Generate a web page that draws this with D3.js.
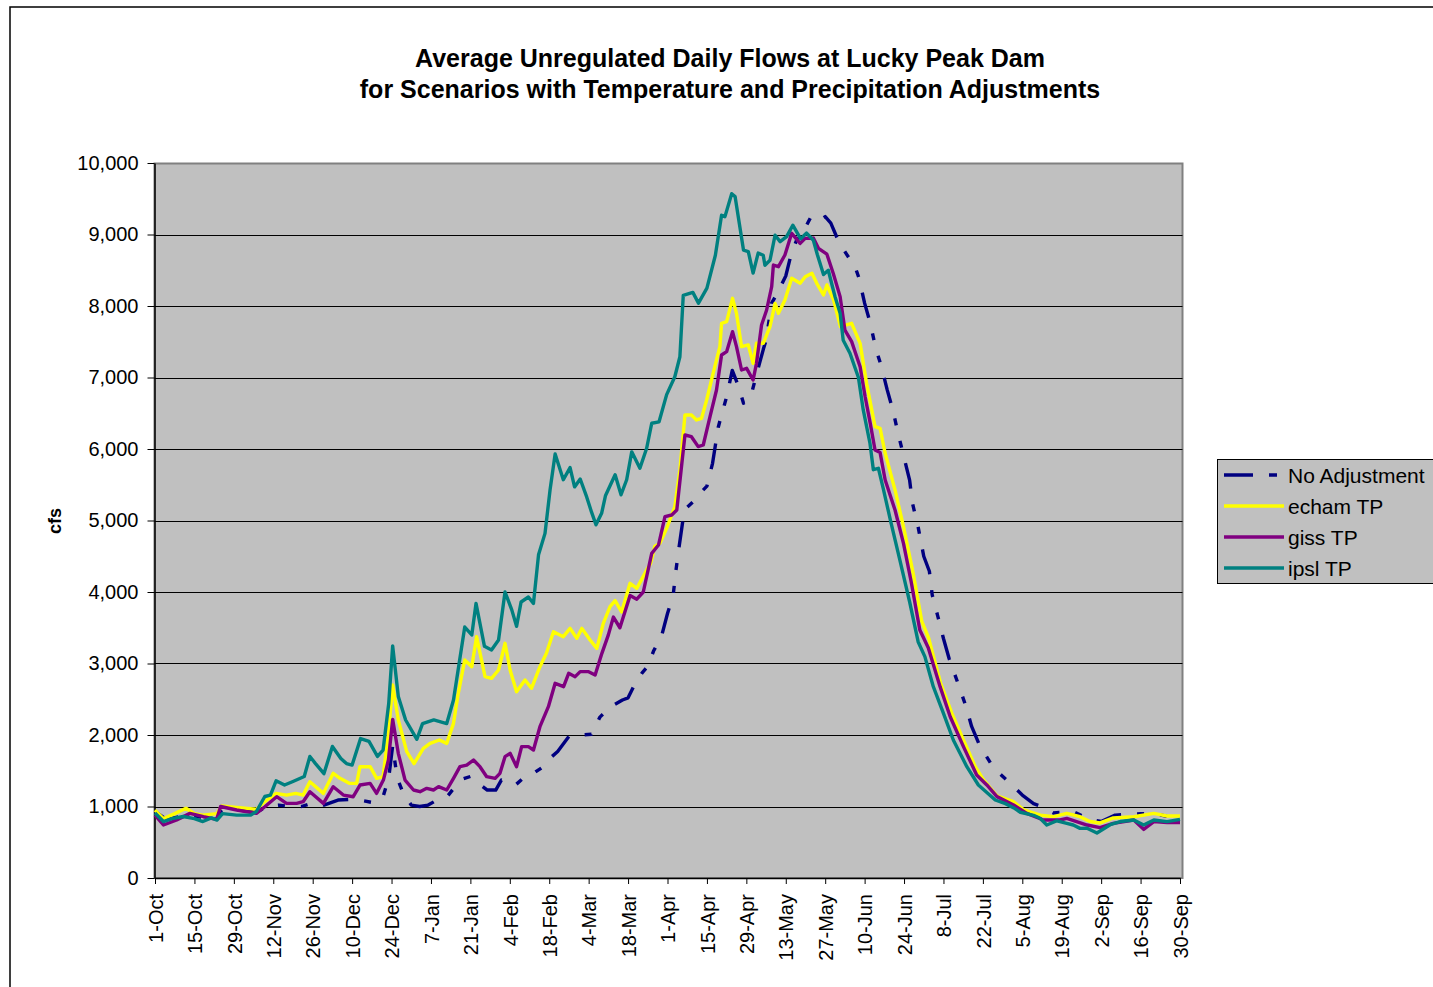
<!DOCTYPE html>
<html>
<head>
<meta charset="utf-8">
<script src="https://cdn.jsdelivr.net/npm/d3@7"></script>
<style>
  body { margin: 0; background: #fff; }
  text { font-family: "Liberation Sans", Arial, sans-serif; fill: #000; }
</style>
</head>
<body>
<div id="chart"></div>
<script>
// Chart text
const titleLines = ["Average Unregulated Daily Flows at Lucky Peak Dam",
                    "for Scenarios with Temperature and Precipitation Adjustments"];
const seriesNames = ["No Adjustment", "echam TP", "giss TP", "ipsl TP"];

// x axis: day of water year (0 = 1-Oct), labelled every 14 days
const tickLabels = ["1-Oct", "15-Oct", "29-Oct", "12-Nov", "26-Nov", "10-Dec", "24-Dec", "7-Jan", "21-Jan",
  "4-Feb", "18-Feb", "4-Mar", "18-Mar", "1-Apr", "15-Apr", "29-Apr", "13-May", "27-May", "10-Jun",
  "24-Jun", "8-Jul", "22-Jul", "5-Aug", "19-Aug", "2-Sep", "16-Sep", "30-Sep"];
const yTicks = [0, 1000, 2000, 3000, 4000, 5000, 6000, 7000, 8000, 9000, 10000];

// [day, cfs]
const noAdjustment = [[0,930],[4,820],[10,870],[17,850],[22,880],[24,960],[30,950],[36,920],[40,1000],[44,1020],
  [48,1000],[52,1000],[56,1050],[60,1020],[65,1090],[70,1100],[74,1080],[78,1050],[81,1140],[83,1400],[84.4,1850],
  [86,1400],[88,1200],[91,1020],[94,1000],[97,1020],[101,1110],[104,1150],[106,1250],[109,1380],[112,1420],
  [115,1320],[118,1230],[121,1230],[123,1370],[126,1330],[128,1300],[132,1440],[135,1480],[138,1560],[141,1700],
  [143,1770],[147,1980],[151,2000],[155,2010],[158,2250],[162,2400],[166,2490],[168,2520],[170,2680],[173,2870],
  [175,2960],[177,3170],[180,3400],[182,3700],[184,3950],[185,4300],[186,4600],[188,5150],[191,5260],[194,5400],
  [196,5480],[198,5800],[200,6300],[201,6450],[203,6730],[205,7100],[207,6900],[209,6640],[211,6700],[212,6800],
  [214,7100],[216,7390],[217,7520],[219,8040],[221,8180],[224,8420],[226,8740],[229,9030],[231,9100],[233,9250],
  [236,9200],[238,9250],[240,9160],[243,8880],[247,8640],[248,8620],[250,8390],[252,8040],[254,7760],[256,7400],
  [258,7150],[260,6830],[262,6550],[264,6200],[266,5880],[268,5560],[269,5240],[271,4910],[273,4500],[275,4290],
  [276,3960],[278,3660],[280,3350],[282,3070],[285,2740],[288,2400],[290,2120],[293,1840],[298,1530],[303,1350],
  [308,1160],[312,1040],[314,1010],[319,910],[326,930],[332,820],[336,790],[341,880],[350,900],[356,890],
  [361,850],[364,860]];

const echamTP = [[0,950],[3,830],[7,900],[11,975],[14,900],[17,880],[22,900],[23.7,1007],[29,988],[36,960],
  [39,1067],[43,1184],[46.7,1160],[50,1184],[52.6,1160],[55,1347],[59.8,1184],[63.3,1464],[65.7,1394],[69,1324],
  [71.6,1324],[72.8,1557],[76.4,1557],[78.7,1394],[81,1417],[83,2070],[84.4,2700],[86.4,2210],[89.4,1767],
  [92,1600],[95.3,1813],[97.7,1883],[101,1930],[103.6,1883],[106,2163],[107.7,2583],[110,3049],[112.5,2956],
  [114.2,3375],[117.2,2816],[119.5,2793],[122,2909],[124.3,3282],[126.1,2909],[128.4,2606],[131.4,2770],
  [133.7,2653],[136.7,2956],[139,3142],[141.5,3445],[145,3375],[147.4,3491],[149.8,3352],[151.6,3491],
  [154.5,3328],[156.9,3212],[159.2,3561],[161.6,3795],[163.4,3880],[165.7,3720],[168.7,4121],[171.1,4051],
  [174.6,4308],[176,4400],[177.5,4640],[179.3,4680],[181.7,4890],[184.6,5193],[186.4,5706],[188.2,6476],
  [190.5,6476],[192.3,6406],[194.1,6429],[195.9,6685],[198.2,7058],[200.6,7431],[201.2,7758],[203,7781],
  [205.1,8107],[206.5,7897],[208.3,7431],[210.7,7455],[212.4,7198],[213.6,7478],[216,7478],[218.4,7711],
  [220.2,8037],[221.4,7897],[223.7,8084],[226.1,8387],[229.1,8317],[230.9,8410],[233.3,8457],[235,8317],
  [237.4,8154],[238.6,8294],[241,8084],[243.4,7711],[247.4,7758],[250.4,7478],[252.7,6918],[255.7,6312],
  [257.5,6289],[259.3,5940],[262.8,5427],[265.8,4914],[269.3,4250],[272.3,3590],[274.7,3360],[279,2723],
  [283,2303],[287.1,1930],[291.3,1557],[294.2,1371],[299,1150],[304.9,1067],[308.5,953],[314.4,880],
  [319.1,857],[323.8,904],[328.5,857],[332,790],[335.6,770],[340.3,840],[347.6,857],[354.7,904],[359.4,867],
  [364,867]];

const gissTP = [[0,880],[3,741],[7.7,811],[12.4,904],[17.2,857],[21.9,820],[23.3,1000],[29,951],[36,904],
  [39,997],[43.2,1137],[46.7,1044],[50.3,1044],[52.6,1067],[55,1207],[59.8,1044],[63.3,1277],[66.9,1160],
  [70.4,1137],[72.8,1300],[76.4,1324],[78.7,1184],[81.1,1370],[82.9,1650],[84.4,2219],[86.4,1744],[88.8,1370],
  [91.8,1231],[94.1,1207],[96.5,1254],[98.9,1231],[100.7,1277],[103.6,1231],[106,1394],[108.3,1557],
  [110.7,1580],[113.1,1650],[115.4,1557],[117.8,1417],[120.8,1394],[122.5,1464],[124.3,1697],[126.1,1744],
  [128.4,1557],[130.2,1837],[132.6,1837],[134.4,1790],[136.7,2116],[139.7,2396],[142.1,2723],[145.1,2676],
  [146.9,2863],[149.2,2816],[151,2886],[154,2886],[156.3,2840],[158.7,3142],[161,3400],[162.8,3650],
  [165.1,3500],[168.7,3950],[171.1,3900],[173.4,4000],[176.4,4541],[178.8,4657],[181.1,5053],[183.5,5077],
  [185.3,5147],[187.1,5800],[188.2,6196],[190.5,6172],[192.9,6033],[194.7,6056],[197.1,6452],[199.4,6825],
  [201.2,7315],[203,7361],[205.1,7641],[206.5,7431],[208.3,7105],[210.1,7128],[212.4,6965],[213.6,7198],
  [215.4,7734],[217.2,7944],[219,8270],[219.6,8573],[221.4,8550],[223.7,8713],[226.1,9016],[229.1,8876],
  [230.9,8946],[233.8,8950],[235.6,8807],[238.6,8725],[240.9,8450],[243.3,8131],[245,7664],[247.4,7502],
  [250.4,7151],[252.2,6727],[254,6359],[255.7,5986],[257.5,5950],[259.3,5566],[262.8,5147],[265.8,4681],
  [268.5,4150],[271.6,3469],[274.6,3220],[278.8,2676],[282.4,2256],[287.1,1837],[291.8,1441],[295.4,1301],
  [299,1138],[304.9,1021],[309.6,904],[315.5,811],[321.4,811],[323.8,834],[331,741],[335.6,705],[340.3,764],
  [347.6,811],[351.1,680],[354.7,788],[359.4,774],[364,774]];

const ipslTP = [[0,910],[3,790],[6,830],[10,860],[14,830],[17,790],[20,840],[22,810],[24,900],[29,880],[34,880],
  [36,930],[39,1140],[41,1160],[43,1360],[46,1300],[49,1350],[53,1420],[55,1700],[57,1600],[60,1460],[63,1840],
  [66,1670],[68,1600],[70,1580],[73,1950],[76,1910],[79,1700],[81,1790],[83,2440],[84.4,3245],[86.4,2540],
  [89,2210],[93,1940],[95,2160],[99,2210],[103.6,2160],[106,2490],[108,3000],[110,3510],[112.5,3400],[114,3840],
  [117,3240],[119.5,3190],[122,3330],[124.3,4000],[126.7,3750],[128.4,3520],[130,3860],[132.6,3930],
  [134.4,3840],[136.2,4520],[138.5,4820],[140.3,5430],[142.1,5930],[145,5570],[147.4,5740],[149,5470],
  [151,5580],[153.3,5330],[155,5120],[156.6,4940],[158.6,5100],[160,5350],[163.4,5640],[165.5,5360],
  [167.5,5570],[169.3,5960],[172.2,5730],[174.6,6010],[176.4,6360],[179,6380],[181.7,6760],[184.6,7010],
  [186.4,7290],[187.6,8150],[191,8190],[193,8040],[196,8250],[199,8710],[201.2,9270],[202.4,9250],[204.8,9570],
  [206,9530],[209,8780],[210.7,8760],[212.4,8460],[214.2,8740],[216,8710],[216.6,8570],[218.4,8640],
  [220.2,8990],[222,8900],[224.3,8970],[226.5,9130],[229.3,8940],[231.4,9020],[233.8,8920],[235.2,8720],
  [237.4,8440],[239.1,8500],[241.5,8130],[243.3,7900],[244.4,7520],[246.8,7340],[249.8,7000],[251.5,6550],
  [253.9,6080],[255.1,5710],[256.9,5730],[258.6,5450],[261.3,4980],[264.5,4448],[268,3860],[271,3305],
  [273.4,3096],[276.4,2676],[280,2303],[283.5,1930],[288.3,1557],[292.4,1301],[298.4,1091],[302,1040],
  [305,980],[307.3,920],[312,877],[314.3,835],[316.7,741],[320.3,800],[323.8,764],[326.1,741],[328.5,694],
  [331,695],[334.5,630],[339.2,745],[342.8,790],[347.6,811],[351.1,741],[354.7,811],[359.4,788],[364,820]];

const seriesData = [noAdjustment, echamTP, gissTP, ipslTP];
const seriesColors = ["#000080", "#ffff00", "#800080", "#008080"];

// Layout
const W = 1433, H = 987;
const plot = {left: 154.5, top: 163.5, right: 1182.5, bottom: 878};

const svg = d3.select("#chart").append("svg")
  .attr("width", W)
  .attr("height", H);

// outer chart border (runs off the right and bottom of the window)
svg.append("rect")
  .attr("x", 10).attr("y", 7)
  .attr("width", W + 20).attr("height", H + 20)
  .attr("fill", "#fff")
  .attr("stroke", "#000")
  .attr("stroke-width", 1.5);

const x = d3.scaleLinear().domain([0, 364]).range([155, 1180]);
const y = d3.scaleLinear().domain([0, 10000]).range([plot.bottom, plot.top - 0.5]);

// plot area
svg.append("rect")
  .attr("x", plot.left).attr("y", plot.top)
  .attr("width", plot.right - plot.left).attr("height", plot.bottom - plot.top)
  .attr("fill", "#c0c0c0")
  .attr("stroke", "#808080")
  .attr("stroke-width", 2);

// gridlines
svg.append("g")
  .selectAll("line")
  .data(yTicks.filter(d => d > 0 && d < 10000))
  .enter().append("line")
  .attr("x1", plot.left).attr("x2", plot.right)
  .attr("y1", d => Math.round(y(d)) + 0.5).attr("y2", d => Math.round(y(d)) + 0.5)
  .attr("stroke", "#000")
  .attr("stroke-width", 1);

// y axis
const yAxis = svg.append("g")
  .attr("transform", "translate(" + plot.left + ",0)")
  .call(d3.axisLeft(y).tickValues(yTicks).tickFormat(d3.format(",")).tickSize(7).tickSizeOuter(0));
yAxis.select(".domain").attr("stroke", "#000").attr("stroke-width", 1.5);
yAxis.selectAll(".tick line").attr("stroke", "#000");
yAxis.selectAll(".tick text")
  .attr("x", -16)
  .style("font-size", "20px")
  .style("font-family", "'Liberation Sans', Arial, sans-serif")
  .attr("fill", "#000");

// x axis
const tickDays = tickLabels.map((d, i) => i * 14);
const xAxis = svg.append("g")
  .attr("transform", "translate(0," + plot.bottom + ")")
  .call(d3.axisBottom(x).tickValues(tickDays).tickFormat((d, i) => tickLabels[i]).tickSize(6).tickSizeOuter(0));
xAxis.select(".domain").attr("stroke", "#000").attr("stroke-width", 1.5);
xAxis.selectAll(".tick line").attr("stroke", "#000");
xAxis.selectAll(".tick text")
  .attr("transform", "rotate(-90)")
  .attr("x", -16)
  .attr("y", 0)
  .attr("dy", "0.36em")
  .attr("text-anchor", "end")
  .style("font-size", "20px")
  .style("font-family", "'Liberation Sans', Arial, sans-serif")
  .attr("fill", "#000");

// series lines
const line = d3.line()
  .x(d => x(d[0]))
  .y(d => y(d[1]));

svg.append("g")
  .selectAll("path")
  .data(seriesData)
  .enter().append("path")
  .attr("d", line)
  .attr("fill", "none")
  .attr("stroke", (d, i) => seriesColors[i])
  .attr("stroke-width", 3.4)
  .attr("stroke-linejoin", "round")
  .attr("stroke-dasharray", (d, i) => i === 0 ? "26,16,7,16,7,16" : null);

// title
svg.append("g")
  .selectAll("text")
  .data(titleLines)
  .enter().append("text")
  .attr("x", 730)
  .attr("y", (d, i) => 67 + i * 31)
  .attr("text-anchor", "middle")
  .style("font-size", "25px")
  .style("font-weight", "bold")
  .text(d => d);

// y axis title
svg.append("text")
  .attr("transform", "translate(61,521) rotate(-90)")
  .attr("text-anchor", "middle")
  .style("font-size", "18px")
  .style("font-weight", "bold")
  .text("cfs");

// legend
const legend = svg.append("g");
legend.append("rect")
  .attr("x", 1217.5).attr("y", 459.5)
  .attr("width", 240).attr("height", 124)
  .attr("fill", "#c0c0c0")
  .attr("stroke", "#000")
  .attr("stroke-width", 1);

const items = legend.selectAll(".item")
  .data(seriesNames)
  .enter().append("g")
  .attr("class", "item")
  .attr("transform", (d, i) => "translate(0," + (475 + i * 31) + ")");

items.append("line")
  .attr("x1", 1224).attr("x2", 1284)
  .attr("y1", 0).attr("y2", 0)
  .attr("stroke", (d, i) => seriesColors[i])
  .attr("stroke-width", 3.4)
  .attr("stroke-dasharray", (d, i) => i === 0 ? "29,16,8,16" : null);

items.append("text")
  .attr("x", 1288)
  .attr("y", 0)
  .attr("dy", "0.36em")
  .style("font-size", "21px")
  .text(d => d);
</script>
</body>
</html>
